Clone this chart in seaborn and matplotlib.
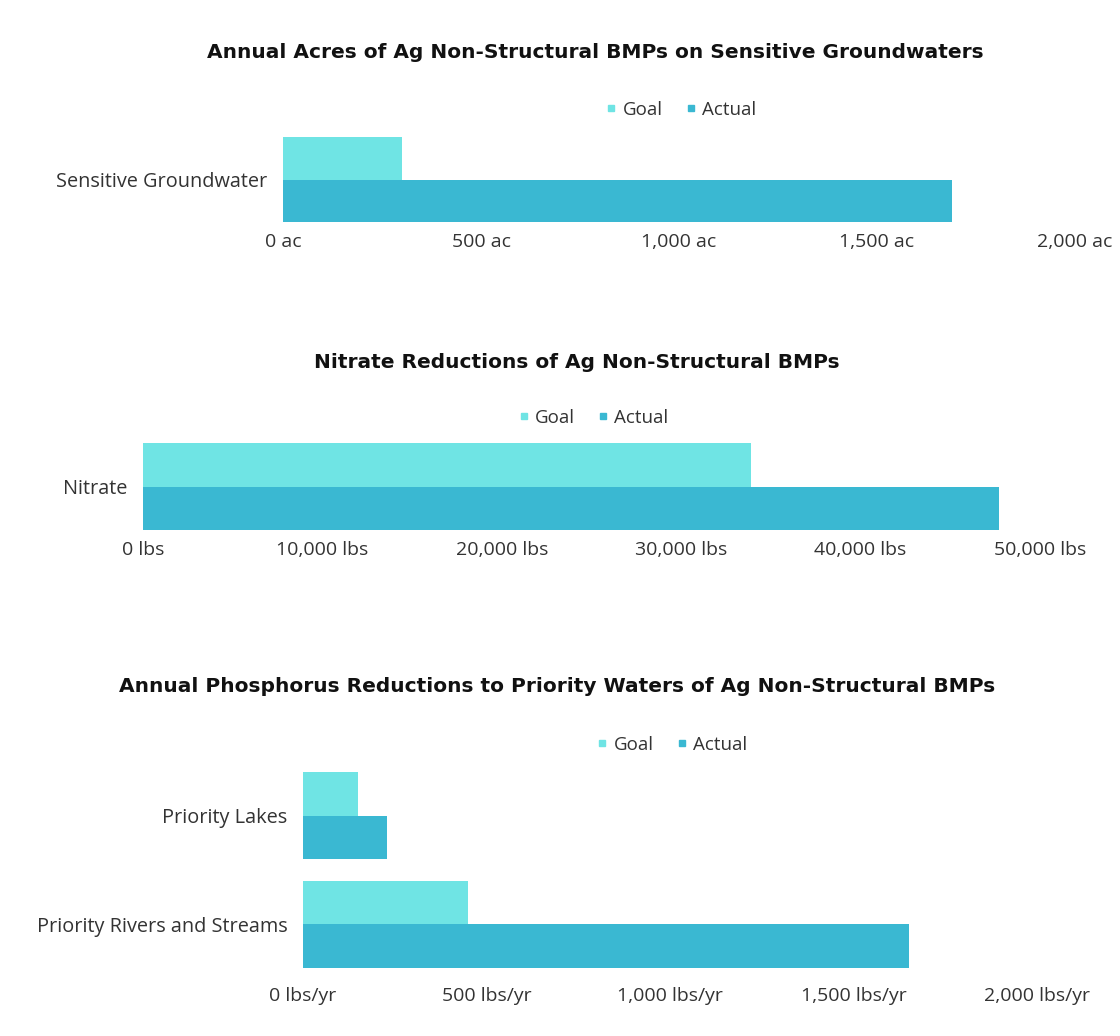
import numpy as np
import pandas as pd
import seaborn as sns
import matplotlib.pyplot as plt
from matplotlib.ticker import FuncFormatter
from matplotlib.lines import Line2D

# data
series = ['Goal', 'Actual']
colors = ['#6fe4e4', '#3ab8d2']

gw_cats = ['Sensitive Groundwater']
gw_goal = [300]
gw_actual = [1690]

no3_cats = ['Nitrate']
no3_goal = [33900]
no3_actual = [47700]

p_cats = ['Priority Lakes', 'Priority Rivers and Streams']
p_goal = [150, 450]
p_actual = [230, 1650]

sns.set_theme(style='white')
plt.rcParams['font.family'] = ['Open Sans', 'DejaVu Sans']

W, H = 1120, 1036
fig = plt.figure(figsize=(W / 100, H / 100), dpi=100)


def make_df(cats, goal, actual):
    return pd.DataFrame({
        'cat': cats * 2,
        'series': ['Goal'] * len(cats) + ['Actual'] * len(cats),
        'value': list(goal) + list(actual),
    })


def panel(left, right, top, bottom, df, ncat, xmax, step, unit, title, title_x, title_y, leg_y, xpad):
    ax = fig.add_axes([left / W, 1 - bottom / H, (right - left) / W, (bottom - top) / H])
    sns.barplot(data=df, y='cat', x='value', hue='series', hue_order=series,
                palette=colors, orient='h', width=0.8, ax=ax, legend=False,
                saturation=1, errorbar=None, linewidth=0)
    ax.set_xlim(0, xmax)
    ax.set_ylim(ncat - 1 + 0.4, -0.4)
    ax.set_xticks(np.arange(0, xmax + 1, step))
    ax.xaxis.set_major_formatter(FuncFormatter(lambda v, p: f'{v:,.0f} {unit}'))
    ax.tick_params(axis='x', length=0, pad=xpad, labelsize=14, labelcolor='#333333')
    ax.tick_params(axis='y', length=0, pad=11, labelsize=14.3, labelcolor='#333333')
    ax.set_xlabel('')
    ax.set_ylabel('')
    for s in ax.spines.values():
        s.set_visible(False)
    fig.text(title_x / W, 1 - title_y / H, title, ha='center', va='center',
             fontsize=14.5, fontweight='bold', color='#111111', family='DejaVu Sans')
    handles = [Line2D([], [], marker='s', ls='', color=c, markersize=4) for c in colors]
    fig.legend(handles, series, loc='center', bbox_to_anchor=((left + right) / 2 / W, 1 - leg_y / H),
               ncol=2, frameon=False, fontsize=13.5, handletextpad=0.1, columnspacing=1.0,
               handlelength=1.0, labelcolor='#333333')
    return ax


panel(283, 1075, 137, 222, make_df(gw_cats, gw_goal, gw_actual), 1, 2000, 500, 'ac',
      'Annual Acres of Ag Non-Structural BMPs on Sensitive Groundwaters', 595, 53, 110, 8)
panel(143, 1040, 443, 530, make_df(no3_cats, no3_goal, no3_actual), 1, 50000, 10000, 'lbs',
      'Nitrate Reductions of Ag Non-Structural BMPs', 577, 362, 418, 8)
panel(303, 1037, 772, 968, make_df(p_cats, p_goal, p_actual), 2, 2000, 500, 'lbs/yr',
      'Annual Phosphorus Reductions to Priority Waters of Ag Non-Structural BMPs', 557, 686, 745, 14)

fig.savefig('out.png', dpi=100, facecolor='white')
